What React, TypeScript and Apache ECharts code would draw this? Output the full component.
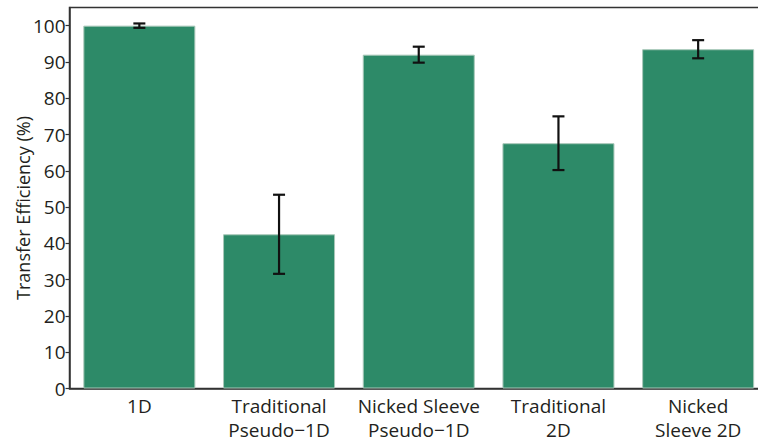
import React, { useEffect, useRef } from "react";
import * as echarts from "echarts";

// Transfer efficiency per sleeve design, mean and error half-width (%)
const categories = [
  "1D",
  "Traditional\nPseudo\u22121D",
  "Nicked Sleeve\nPseudo\u22121D",
  "Traditional\n2D",
  "Nicked\nSleeve 2D",
];
const meanValues = [100, 42.5, 92.0, 67.6, 93.5];
const errorValues = [0.6, 10.9, 2.2, 7.4, 2.5];
const yTicks = [0, 10, 20, 30, 40, 50, 60, 70, 80, 90, 100];

const BAR_GREEN = "#2d8a68";
const INK = "#231f20";
const FONT = "'Open Sans', 'Noto Sans', sans-serif";

export default function App() {
  const ref = useRef<HTMLDivElement>(null);

  useEffect(() => {
    if (!ref.current) return;
    const chart = echarts.init(ref.current, undefined, { renderer: "svg" });

    const errorData = meanValues.map((m, i) => [i, m - errorValues[i], m + errorValues[i]]);

    chart.setOption({
      animation: false,
      backgroundColor: "#ffffff",
      textStyle: { fontFamily: FONT, color: INK },
      grid: {
        left: 69.5,
        top: 7.5,
        width: 698.5,
        bottom: 58.5,
        outerBoundsMode: "none",
        containLabel: false,
        show: true,
        borderColor: "#333333",
        borderWidth: 1.5,
        backgroundColor: "transparent",
      },
      xAxis: {
        type: "category",
        data: categories,
        axisLine: { lineStyle: { color: "#333333", width: 1.5 } },
        axisTick: { show: false },
        axisLabel: {
          color: INK,
          fontFamily: FONT,
          fontSize: 19,
          lineHeight: 24.5,
          margin: 5,
          interval: 0,
        },
      },
      yAxis: {
        type: "value",
        min: 0,
        max: 105,
        interval: 10,
        splitLine: { show: false },
        axisLine: { show: true, lineStyle: { color: "#333333", width: 1.5 } },
        axisTick: {
          show: true,
          length: 4,
          customValues: yTicks,
          lineStyle: { color: "#333333", width: 1.2 },
        },
        axisLabel: {
          color: INK,
          fontFamily: FONT,
          fontSize: 19,
          margin: 4,
          customValues: yTicks,
        },
      },
      graphic: [
        {
          type: "text",
          x: 23,
          y: 208,
          rotation: Math.PI / 2,
          style: {
            text: "Transfer Efficiency (%)",
            fontFamily: FONT,
            fontSize: 18,
            fill: INK,
            align: "center",
            verticalAlign: "middle",
          },
        },
      ],
      series: [
        {
          type: "bar",
          data: meanValues,
          barWidth: 112,
          itemStyle: {
            color: BAR_GREEN,
            borderColor: "#a7c7b8",
            borderWidth: 1,
          },
          z: 2,
        },
        {
          type: "custom",
          data: errorData,
          z: 3,
          renderItem: (params: any, api: any) => {
            const idx = api.value(0);
            const lo = api.coord([idx, api.value(1)]);
            const hi = api.coord([idx, api.value(2)]);
            const half = 6;
            const style = { stroke: "#111111", lineWidth: 2.2 };
            return {
              type: "group",
              children: [
                { type: "line", shape: { x1: hi[0], y1: hi[1], x2: lo[0], y2: lo[1] }, style },
                { type: "line", shape: { x1: hi[0] - half, y1: hi[1], x2: hi[0] + half, y2: hi[1] }, style },
                { type: "line", shape: { x1: lo[0] - half, y1: lo[1], x2: lo[0] + half, y2: lo[1] }, style },
              ],
            };
          },
        },
      ],
    });

    return () => chart.dispose();
  }, []);

  return (
    <div
      ref={ref}
      style={{ position: "absolute", left: 0, top: 0, width: 758, height: 447, overflow: "hidden" }}
    />
  );
}
